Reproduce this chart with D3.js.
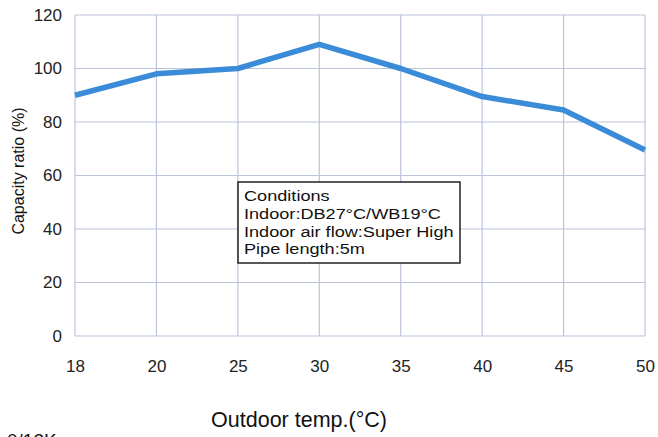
<!DOCTYPE html>
<html>
<head>
  <meta charset="utf-8" />
  <script src="https://cdnjs.cloudflare.com/ajax/libs/d3/7.8.5/d3.min.js"></script>
  <style>
    body { margin: 0; background: #fff; }
    svg { display: block; font-family: "Liberation Sans", Arial, sans-serif; }
    .grid line { stroke: #bcc3dc; stroke-width: 1.2; }
    .tick text { fill: #222; font-size: 17px; }
  </style>
</head>
<body>
<svg width="658" height="437"></svg>
<script>
  // data
  var temps = ["18", "20", "25", "30", "35", "40", "45", "50"]
  var ratios = [90, 98, 100, 109, 100, 89.5, 84.5, 69.5]
  var yTicks = [0, 20, 40, 60, 80, 100, 120]
  var conditions = ["Conditions", "Indoor:DB27°C/WB19°C", "Indoor air flow:Super High", "Pipe length:5m"]

  var svg = d3.select("svg")

  var x = d3.scalePoint().domain(temps).range([75, 645])
  var y = d3.scaleLinear().domain([0, 120]).range([336, 15])

  // grid
  var grid = svg.append("g").attr("class", "grid")
  grid.selectAll(".v")
    .data(temps)
    .enter()
    .append("line")
      .attr("x1", d => x(d)).attr("x2", d => x(d))
      .attr("y1", y(0)).attr("y2", y(120))
  grid.selectAll(".h")
    .data(yTicks)
    .enter()
    .append("line")
      .attr("x1", x("18")).attr("x2", x("50"))
      .attr("y1", d => y(d)).attr("y2", d => y(d))

  // axes (labels only)
  var xAxis = svg.append("g")
    .attr("transform", "translate(0," + y(0) + ")")
    .call(d3.axisBottom(x).tickSize(0).tickPadding(24))
  var yAxis = svg.append("g")
    .attr("transform", "translate(" + x("18") + ",0)")
    .call(d3.axisLeft(y).tickValues(yTicks).tickSize(0).tickPadding(13))
  xAxis.select(".domain").remove()
  yAxis.select(".domain").remove()
  svg.selectAll(".tick text").style("font-family", "'Liberation Sans', Arial, sans-serif")

  // line
  var line = d3.line().x((d, i) => x(temps[i])).y(d => y(d))
  svg.append("path")
    .datum(ratios)
    .attr("d", line)
    .style("fill", "none")
    .style("stroke", "#3a8bd8")
    .style("stroke-width", 5.5)
    .style("stroke-linejoin", "round")

  // conditions box (scan looks horizontally stretched, so widen the text a bit)
  var box = svg.append("g").attr("transform", "translate(238,182)")
  box.append("rect")
    .attr("width", 222).attr("height", 81)
    .style("fill", "#fff").style("stroke", "#222").style("stroke-width", 1.5)
  box.append("g")
    .attr("transform", "translate(6,0) scale(1.17,1)")
    .selectAll("text")
    .data(conditions)
    .enter()
    .append("text")
      .attr("x", 0)
      .attr("y", (d, i) => 19 + i * 17.8)
      .style("font-size", "15.5px")
      .style("fill", "#111")
      .text(d => d)

  // titles
  svg.append("text")
    .attr("transform", "translate(24,171) rotate(-90)")
    .attr("text-anchor", "middle")
    .style("font-size", "16px")
    .style("fill", "#111")
    .text("Capacity ratio (%)")
  svg.append("text")
    .attr("x", 299).attr("y", 427)
    .attr("text-anchor", "middle")
    .style("font-size", "21.5px")
    .style("fill", "#111")
    .text("Outdoor temp.(°C)")
  svg.append("text")
    .attr("x", 7).attr("y", 447)
    .style("font-size", "19px")
    .style("fill", "#111")
    .text("0/12K")
</script>
</body>
</html>
